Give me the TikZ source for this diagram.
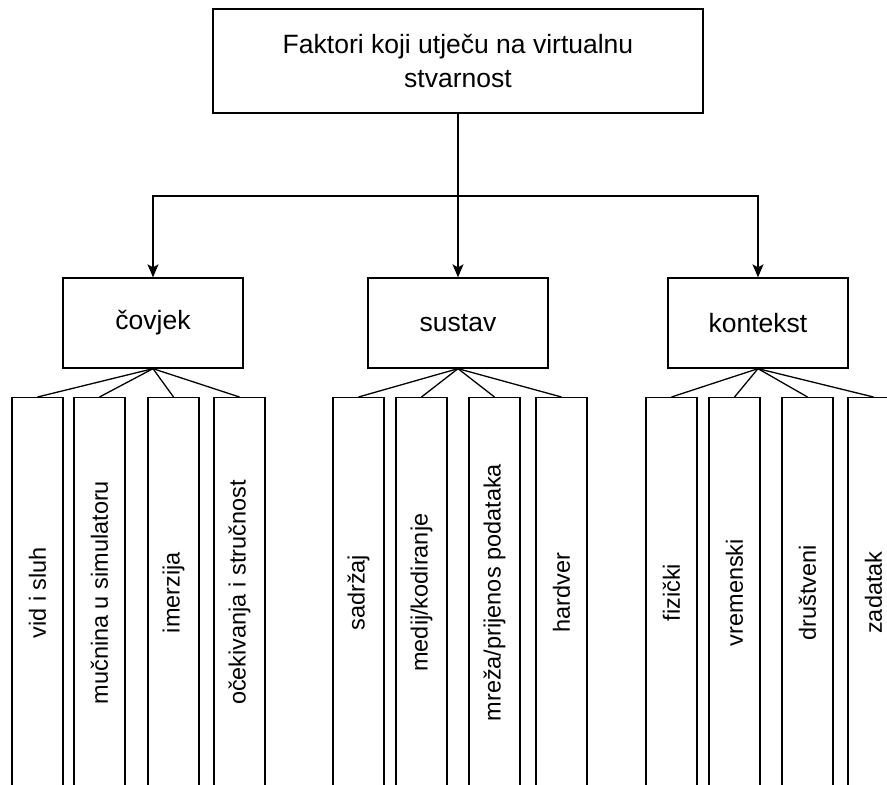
\documentclass[tikz,border=0pt]{standalone}
\usepackage{fontspec}
\setmainfont{Liberation Sans}
\usetikzlibrary{arrows.meta}

\tikzset{
  box/.style={draw=black, line width=1.3pt, fill=white, inner sep=0pt, align=center},
  leaf/.style={box, anchor=north, minimum width=51pt, minimum height=390pt,
               font=\fontsize{23.5}{28}\selectfont},
  link/.style={draw=black, line width=1.3pt},
  arr/.style={link, -{Stealth[length=13pt, width=11pt, inset=3pt]}},
  lbl/.style={font=\fontsize{26.5}{34}\selectfont}
}

\begin{document}
\begin{tikzpicture}[x=1pt, y=-1pt]
  \clip (0,0) rectangle (887,785);
  \fill[white] (0,0) rectangle (887,785);

  % root
  \node[box, lbl, minimum width=490pt, minimum height=104pt] (root) at (458,61)
    {Faktori koji utječu na virtualnu\\stvarnost};

  % second level
  \node[box, lbl, minimum width=180pt, minimum height=90pt] (cov) at (153,323) {čovjek};
  \node[box, lbl, minimum width=180pt, minimum height=90pt] (sus) at (458,323) {sustav};
  \node[box, lbl, minimum width=180pt, minimum height=90pt] (kon) at (758,323) {kontekst};

  % branching from the root
  \coordinate (split) at (458,196);
  \draw[link] (root.south) -- (split);
  \draw[arr] (split) -| (cov.north);
  \draw[arr] (split) -- (sus.north);
  \draw[arr] (split) -| (kon.north);

  % leaves of "čovjek"
  \node[leaf] (c1) at (37.5,397)  {\rotatebox{90}{vid i sluh}};
  \node[leaf] (c2) at (99.5,397)  {\rotatebox{90}{mučnina u simulatoru}};
  \node[leaf] (c3) at (173.5,397) {\rotatebox{90}{imerzija}};
  \node[leaf] (c4) at (239.5,397) {\rotatebox{90}{očekivanja i stručnost}};

  % leaves of "sustav"
  \node[leaf] (s1) at (358.5,397) {\rotatebox{90}{sadržaj}};
  \node[leaf] (s2) at (421.5,397) {\rotatebox{90}{medij/kodiranje}};
  \node[leaf] (s3) at (494.5,397) {\rotatebox{90}{mreža/prijenos podataka}};
  \node[leaf] (s4) at (561.5,397) {\rotatebox{90}{hardver}};

  % leaves of "kontekst"
  \node[leaf] (k1) at (671.5,397) {\rotatebox{90}{fizički}};
  \node[leaf] (k2) at (734.5,397) {\rotatebox{90}{vremenski}};
  \node[leaf] (k3) at (807.5,397) {\rotatebox{90}{društveni}};
  \node[leaf] (k4) at (873.5,397) {\rotatebox{90}{zadatak}};

  % fans
  \foreach \p/\c in {cov/c1, cov/c2, cov/c3, cov/c4,
                     sus/s1, sus/s2, sus/s3, sus/s4,
                     kon/k1, kon/k2, kon/k3, kon/k4}
    \draw[link] (\p.south) -- (\c.north);
\end{tikzpicture}
\end{document}
